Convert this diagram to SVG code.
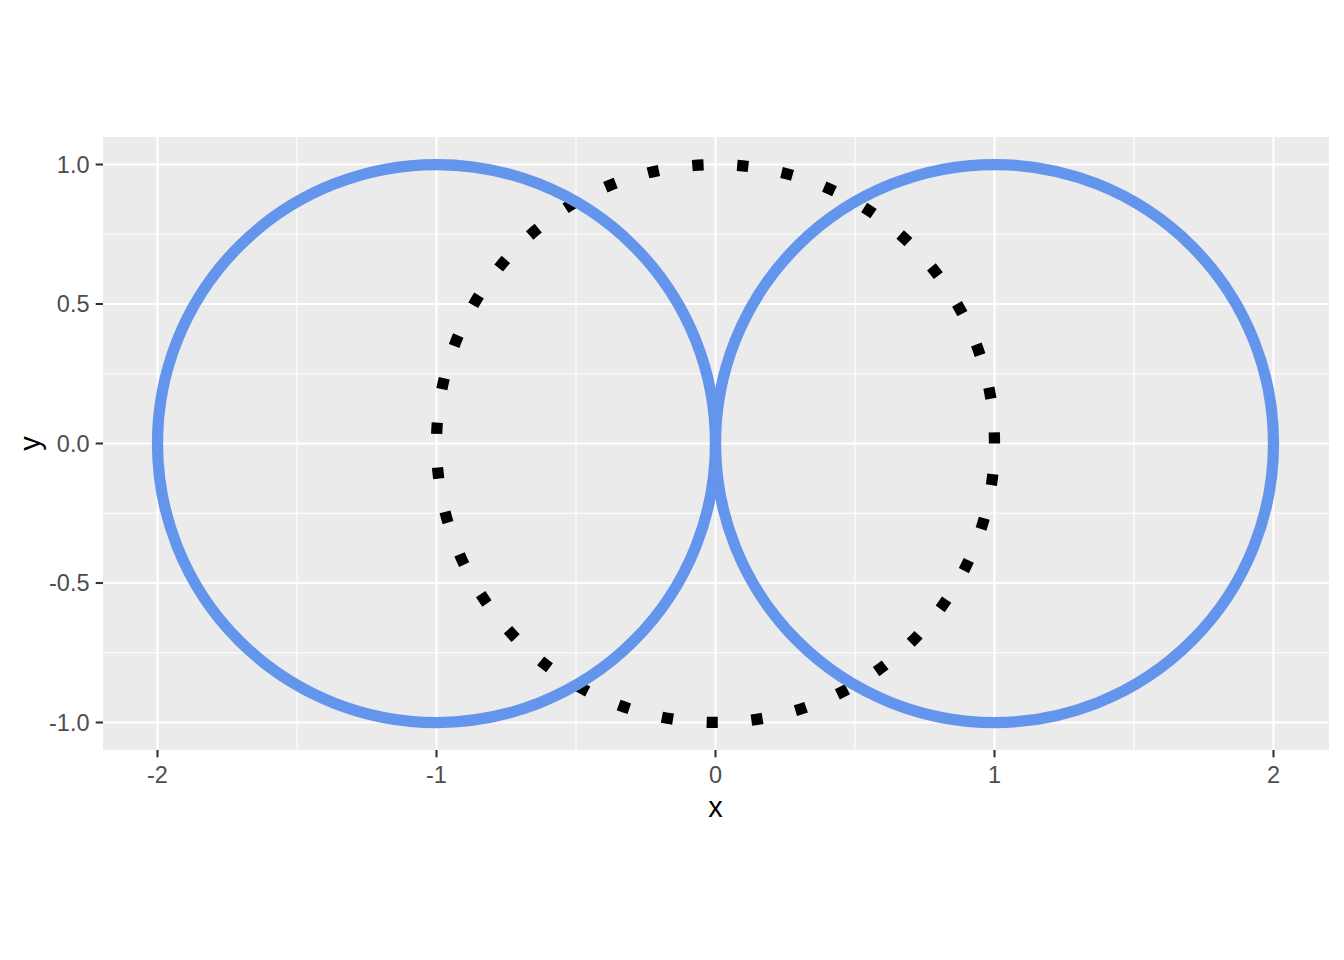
<svg xmlns="http://www.w3.org/2000/svg" width="1344" height="960" viewBox="0 0 1344 960">
<style>
.major{stroke:#FFFFFF;stroke-width:2.1;fill:none}
.minor{stroke:#FFFFFF;stroke-width:1.07;fill:none}
.tick{stroke:#333333;stroke-width:2.1}
.tl{font-family:"Liberation Sans",Arial,sans-serif;font-size:23.5px;fill:#4D4D4D}
.title{font-family:"Liberation Sans",Arial,sans-serif;font-size:29px;fill:#000000}
.blue{fill:none;stroke:#6495ED;stroke-width:11.25}
.dot{fill:none;stroke:#000000;stroke-width:11.25;stroke-dasharray:11.25 33.75;stroke-linecap:butt}
</style>
<rect width="1344" height="960" fill="#FFFFFF"/>
<g id="panel">
<rect x="103" y="137" width="1226" height="613" fill="#EBEBEB"/>
<g id="minor-grid">
<line class="minor" x1="103" x2="1329" y1="234.25" y2="234.25"/>
<line class="minor" x1="103" x2="1329" y1="373.75" y2="373.75"/>
<line class="minor" x1="103" x2="1329" y1="513.25" y2="513.25"/>
<line class="minor" x1="103" x2="1329" y1="652.75" y2="652.75"/>
<line class="minor" y1="137" y2="750" x1="297" x2="297"/>
<line class="minor" y1="137" y2="750" x1="576" x2="576"/>
<line class="minor" y1="137" y2="750" x1="855" x2="855"/>
<line class="minor" y1="137" y2="750" x1="1134" x2="1134"/>
</g>
<g id="major-grid">
<line class="major" x1="103" x2="1329" y1="164.5" y2="164.5"/>
<line class="major" x1="103" x2="1329" y1="304" y2="304"/>
<line class="major" x1="103" x2="1329" y1="443.5" y2="443.5"/>
<line class="major" x1="103" x2="1329" y1="583" y2="583"/>
<line class="major" x1="103" x2="1329" y1="722.5" y2="722.5"/>
<line class="major" y1="137" y2="750" x1="157.5" x2="157.5"/>
<line class="major" y1="137" y2="750" x1="436.5" x2="436.5"/>
<line class="major" y1="137" y2="750" x1="715.5" x2="715.5"/>
<line class="major" y1="137" y2="750" x1="994.5" x2="994.5"/>
<line class="major" y1="137" y2="750" x1="1273.5" x2="1273.5"/>
</g>
</g>
<g id="connectors">
<path id="dotted-circle" class="dot" d="M 994.5 443.5 A 279 279 0 0 0 436.5 443.5 A 279 279 0 0 0 994.5 443.5"/>
<circle id="left-circle" class="blue" cx="436.5" cy="443.5" r="279"/>
<circle id="right-circle" class="blue" cx="994.5" cy="443.5" r="279"/>
</g>
<g id="y-axis">
<line class="tick" x1="95.7" x2="103" y1="164.5" y2="164.5"/>
<line class="tick" x1="95.7" x2="103" y1="304" y2="304"/>
<line class="tick" x1="95.7" x2="103" y1="443.5" y2="443.5"/>
<line class="tick" x1="95.7" x2="103" y1="583" y2="583"/>
<line class="tick" x1="95.7" x2="103" y1="722.5" y2="722.5"/>
<text class="tl" text-anchor="end" x="89.5" y="172.9">1.0</text>
<text class="tl" text-anchor="end" x="89.5" y="312.4">0.5</text>
<text class="tl" text-anchor="end" x="89.5" y="451.9">0.0</text>
<text class="tl" text-anchor="end" x="89.5" y="591.4">-0.5</text>
<text class="tl" text-anchor="end" x="89.5" y="730.9">-1.0</text>
<text class="title" text-anchor="middle" transform="translate(40,443.5) rotate(-90)">y</text>
</g>
<g id="x-axis">
<line class="tick" y1="750" y2="757.3" x1="157.5" x2="157.5"/>
<line class="tick" y1="750" y2="757.3" x1="436.5" x2="436.5"/>
<line class="tick" y1="750" y2="757.3" x1="715.5" x2="715.5"/>
<line class="tick" y1="750" y2="757.3" x1="994.5" x2="994.5"/>
<line class="tick" y1="750" y2="757.3" x1="1273.5" x2="1273.5"/>
<text class="tl" text-anchor="middle" x="157.5" y="783">-2</text>
<text class="tl" text-anchor="middle" x="436.5" y="783">-1</text>
<text class="tl" text-anchor="middle" x="715.5" y="783">0</text>
<text class="tl" text-anchor="middle" x="994.5" y="783">1</text>
<text class="tl" text-anchor="middle" x="1273.5" y="783">2</text>
<text class="title" text-anchor="middle" x="715.5" y="816.5">x</text>
</g>
</svg>
